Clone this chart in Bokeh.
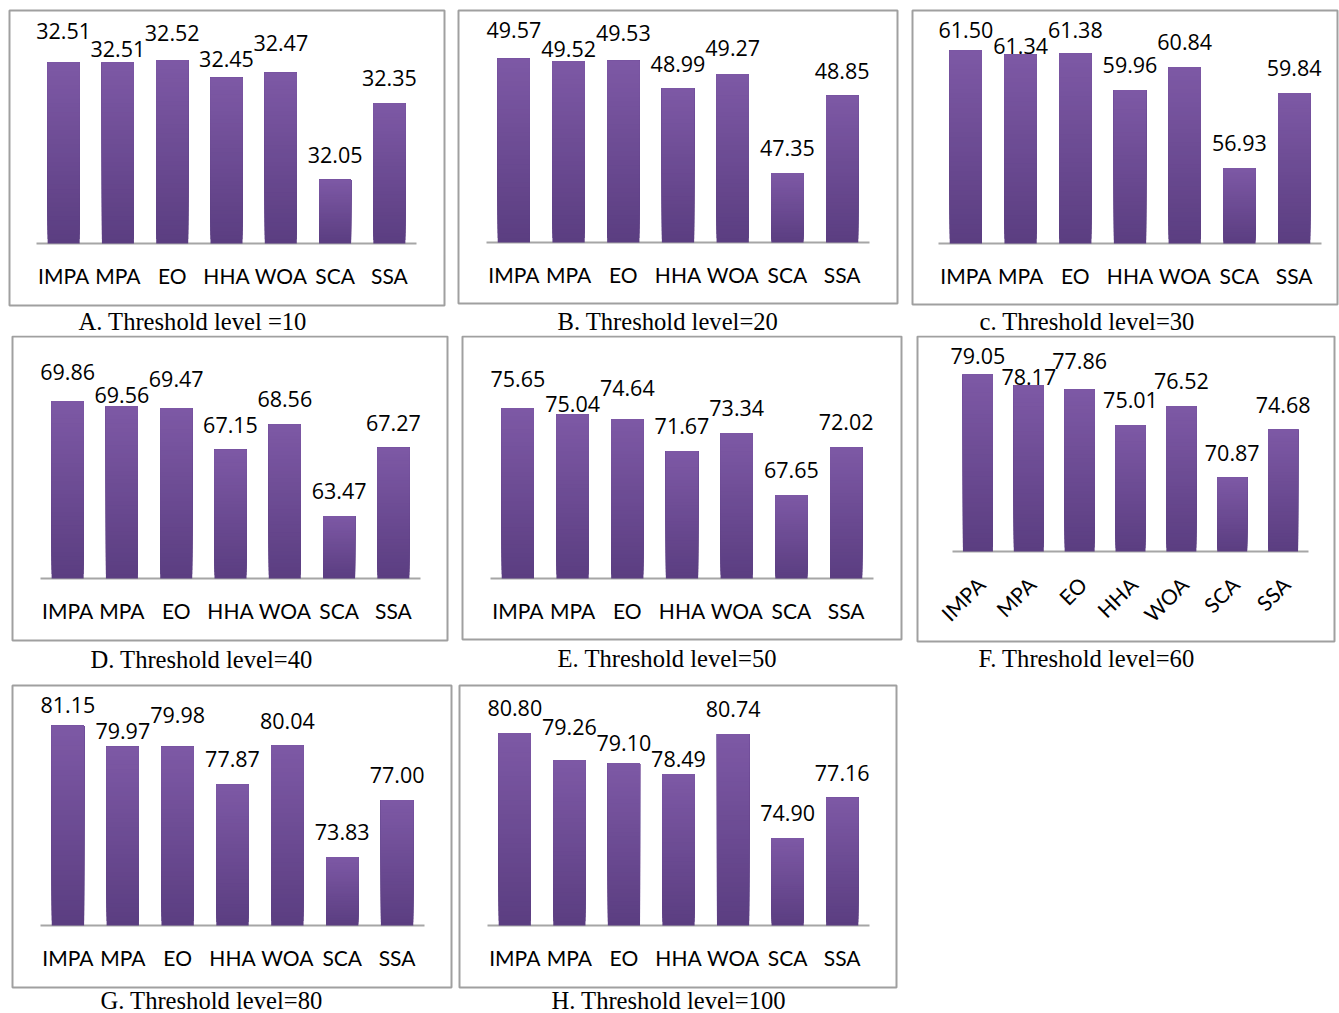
import numpy as np
from bokeh.plotting import figure
from bokeh.models import Range1d, Label, BoxAnnotation, ColumnDataSource
from bokeh.layouts import row, column
from bokeh.embed import file_html
from bokeh.resources import INLINE
from bokeh.core.properties import value

# ---------------- data ----------------
algorithms = ["IMPA", "MPA", "EO", "HHA", "WOA", "SCA", "SSA"]

level_10 = [32.51, 32.51, 32.52, 32.45, 32.47, 32.05, 32.35]
level_20 = [49.57, 49.52, 49.53, 48.99, 49.27, 47.35, 48.85]
level_30 = [61.50, 61.34, 61.38, 59.96, 60.84, 56.93, 59.84]
level_40 = [69.86, 69.56, 69.47, 67.15, 68.56, 63.47, 67.27]
level_50 = [75.65, 75.04, 74.64, 71.67, 73.34, 67.65, 72.02]
level_60 = [79.05, 78.17, 77.86, 75.01, 76.52, 70.87, 74.68]
level_80 = [81.15, 79.97, 79.98, 77.87, 80.04, 73.83, 77.00]
level_100 = [80.80, 79.26, 79.10, 78.49, 80.74, 74.90, 77.16]

captions = [
    "A. Threshold level =10",
    "B. Threshold level=20",
    "c. Threshold level=30",
    "D. Threshold level=40",
    "E. Threshold level=50",
    "F. Threshold level=60",
    "G. Threshold level=80",
    "H. Threshold level=100",
]

# value-axis limits of each small chart (axis itself hidden)
axis_min = [31.8, 46, 54, 60, 60, 65, 70, 70]
axis_max = [32.6, 50, 62, 72, 80, 80, 82, 82]

series = [level_10, level_20, level_30, level_40, level_50, level_60, level_80, level_100]

# ---------------- layout geometry (page pixels) ----------------
# cell (x0,y0,x1,y1), box (l,t,r,b), category span (cl,cr), plot top, baseline,
# caption (left x, vertical middle)
geometry = [
    ((0, 0, 451, 335), (9, 10, 444, 305), (36, 416), 39, 243, (78, 321)),
    ((451, 0, 905, 335), (458, 10, 897, 303), (486, 869), 36, 242, (557, 321)),
    ((905, 0, 1339, 335), (912, 10, 1337, 304), (938, 1321), 37, 243, (979, 321)),
    ((0, 335, 454, 681), (12, 336, 447, 640), (40, 420), 362, 578, (90, 659)),
    ((454, 335, 908, 681), (462, 336, 901, 639), (490, 873), 360, 578, (557, 658)),
    ((908, 335, 1339, 681), (917, 336, 1334, 641), (952, 1308), 362, 551, (978, 658)),
    ((0, 681, 455, 1013), (12, 685, 451, 987), (40, 424), 710, 925, (100, 1000)),
    ((455, 681, 905, 1013), (459, 685, 896, 987), (487, 869), 711, 925, (551, 1000)),
]
rotated = [False, False, False, False, False, True, False, False]

BOTTOM_RGB = (91, 62, 129)
TOP_RGB = (126, 89, 166)
SEGMENTS = 40
CAT_FONT = "Lato"
VAL_FONT = "Open Sans"
VAL_SIZE = 21.5


def mix(t):
    r, g, b = (int(round(a + (c - a) * t)) for a, c in zip(BOTTOM_RGB, TOP_RGB))
    return "#%02x%02x%02x" % (r, g, b)


def label_offsets(bar_top_px, texts, unit, floor_px):
    """Screen offsets (px, down positive) of the value labels from the bar tops,
    nudging neighbouring labels apart when they would collide."""
    n = len(texts)
    ys = [max(t - 25.0, floor_px) for t in bar_top_px]
    widths = [sum(0.27 if ch == "." else 0.572 for ch in s) * VAL_SIZE + 6 for s in texts]
    h = 16.0
    for _ in range(8):
        for i in range(n - 1):
            j = i + 1
            d = abs(ys[i] - ys[j])
            if unit < (widths[i] + widths[j]) / 2 and d < h - 0.01:
                need = h - d
                up, lo = (j, i) if ys[i] > ys[j] else (i, j)
                ys[up] = max(ys[up] - need * 0.4, floor_px)
                ys[lo] = ys[up] + h
    return [y - t for y, t in zip(ys, bar_top_px)]


def make_panel(vals, caption, vmin, vmax, geom, rot):
    (cx0, cy0, cx1, cy1), (bl, bt, br, bb), (cl, cr), ptop, pbase, (capx, capy) = geom
    n = len(algorithms)
    xs = list(range(n))
    ppu = (pbase - ptop) / (vmax - vmin)
    unit = (cr - cl) / n

    def xd(px):  # page pixel -> data x
        return -0.5 + (px - cl) / unit

    def yd(py):  # page pixel -> data y
        return vmin + (pbase - py) / ppu

    p = figure(
        width=cx1 - cx0, height=cy1 - cy0,
        output_backend="svg", toolbar_location=None, title=None,
        x_range=Range1d(xd(cx0), xd(cx1)),
        y_range=Range1d(yd(cy1), yd(cy0)),
        x_axis_location=None, y_axis_location=None,
        min_border_left=0, min_border_right=0,
        min_border_top=0, min_border_bottom=0,
    )
    p.grid.visible = False
    p.outline_line_color = None
    p.background_fill_color = "white"
    p.border_fill_color = "white"

    # chart box
    p.add_layout(BoxAnnotation(left=xd(bl), right=xd(br), top=yd(bt), bottom=yd(bb),
                               fill_color=None, line_color="#A0A0A0", line_alpha=1.0,
                               line_width=2))

    # baseline (category axis line)
    p.segment(x0=[-0.5], x1=[n - 0.5], y0=[vmin], y1=[vmin],
              line_color="#A6A6A6", line_width=2)

    # gradient bars: overlapping layers, darker at the bottom
    bx, bbot, btop, bcol = [], [], [], []
    for k in range(SEGMENTS):
        f = k / SEGMENTS
        for i, v in enumerate(vals):
            bx.append(xs[i])
            bbot.append(vmin + (v - vmin) * f)
            btop.append(v)
            bcol.append(mix(f))
    src = ColumnDataSource(dict(x=bx, bottom=bbot, top=btop, color=bcol))
    p.vbar(x="x", bottom="bottom", top="top", width=0.59, fill_color="color",
           line_color=None, source=src)

    # value labels
    texts = ["%.2f" % v for v in vals]
    bar_top_px = [pbase - (v - vmin) * ppu for v in vals]
    offs = label_offsets(bar_top_px, texts, unit, bt + 19)
    lsrc = ColumnDataSource(dict(x=xs, y=vals, text=texts, dy=offs))
    p.text(x="x", y="y", text="text", y_offset="dy", source=lsrc,
           text_font=value(VAL_FONT), text_font_size="%gpx" % VAL_SIZE,
           text_align="center", text_baseline="middle", text_color="black")

    # category labels
    if rot:
        p.text(x=xs, y=[vmin] * n, text=algorithms, angle=np.pi / 4,
               text_font=value(CAT_FONT), text_font_size="21px",
               text_align="right", text_baseline="middle",
               x_offset=3, y_offset=29, text_color="black")
    else:
        p.text(x=xs, y=[vmin] * n, text=algorithms,
               text_font=value(CAT_FONT), text_font_size="21px",
               text_align="center", text_baseline="middle",
               y_offset=32, text_color="black")

    # caption below the box
    p.add_layout(Label(x=xd(capx), y=yd(capy), text=caption,
                       text_font="Liberation Serif", text_font_size="24.6px",
                       text_align="left", text_baseline="middle", text_color="black"))
    return p


panels = [make_panel(series[i], captions[i], axis_min[i], axis_max[i],
                     geometry[i], rotated[i]) for i in range(len(series))]

layout = column(
    row(panels[0], panels[1], panels[2], spacing=0),
    row(panels[3], panels[4], panels[5], spacing=0),
    row(panels[6], panels[7], spacing=0),
    spacing=0,
)

open("out.html", "w").write(file_html(layout, INLINE))
